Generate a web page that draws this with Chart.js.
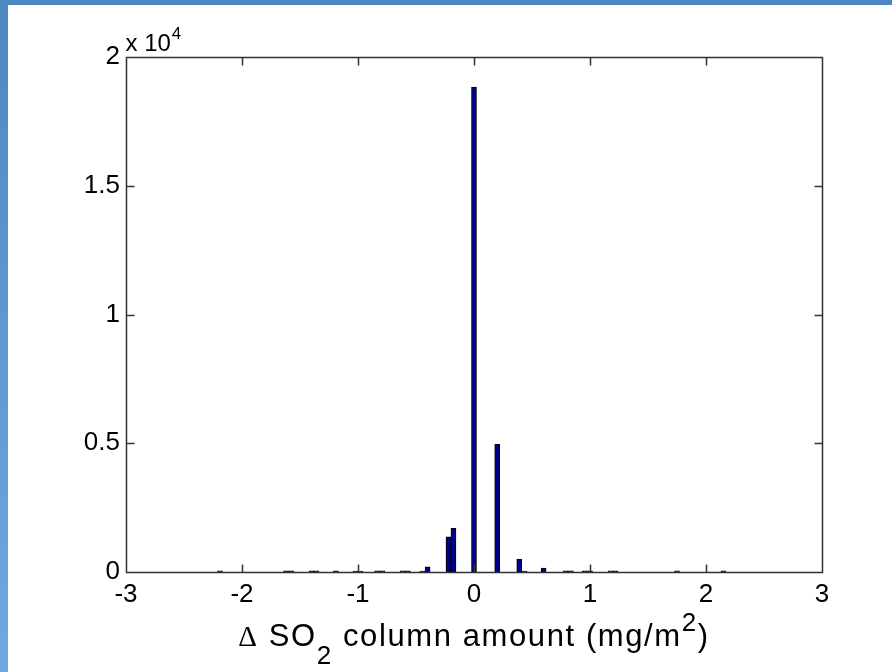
<!DOCTYPE html>
<html><head><meta charset="utf-8">
<script src="https://cdn.jsdelivr.net/npm/chart.js@4"></script>
<style>
html,body{margin:0;padding:0;background:#fff;}
#wrap{position:relative;width:892px;height:672px;overflow:hidden;background:#fff;}
#topband{position:absolute;left:0;top:0;width:892px;height:5px;background:#4f87c2;}
#leftband{position:absolute;left:0;top:0;width:8px;height:672px;background:linear-gradient(#4f87c2,#70a8e2);}
canvas{position:absolute;left:0;top:0;}
</style></head><body>
<div id="wrap"><div id="topband"></div><div id="leftband"></div><canvas id="c" width="892" height="672"></canvas></div>
<script>
// Histogram bins (bin centre, mg/m^2) and counts
const binCenters = [-2.19, -1.62, -1.575, -1.40, -1.36, -1.19, -1.02, -0.98, -0.835, -0.79, -0.615, -0.57,
  -0.445, -0.40, -0.22, -0.177, 0.0, 0.2, 0.39, 0.435, 0.60, 0.79, 0.835, 0.955, 1.0, 1.18, 1.22, 1.75, 2.15];
const counts = [50, 50, 50, 50, 50, 50, 40, 40, 50, 50, 50, 50,
  40, 200, 1370, 1700, 18830, 4960, 500, 40, 150, 50, 50, 50, 50, 50, 50, 50, 50];
const xTicks = [-3, -2, -1, 0, 1, 2, 3];
const xTickLabels = ['-3', '-2', '-1', '0', '1', '2', '3'];
const yTicks = [0, 5000, 10000, 15000, 20000];
const yTickLabels = ['0', '0.5', '1', '1.5', '2'];

const FONT = 'Liberation Sans, Arial, Helvetica, sans-serif';
const points = binCenters.map((x, i) => ({x: x, y: counts[i]}));

const boxPlugin = {
  id: 'matlabBox',
  afterDraw(chart) {
    const ctx = chart.ctx, a = chart.chartArea;
    const xs = chart.scales.x, ys = chart.scales.y;
    const L = Math.round(a.left) + 0.5, R = Math.round(a.right) + 0.5;
    const T = Math.round(a.top) + 0.5, B = Math.round(a.bottom) + 0.5;
    ctx.save();
    ctx.strokeStyle = '#333';
    ctx.lineWidth = 1.5;
    ctx.beginPath();
    ctx.rect(L, T, R - L, B - T);
    const tl = 8;
    xTicks.forEach(v => {
      const px = Math.round(xs.getPixelForValue(v)) + 0.5;
      ctx.moveTo(px, B); ctx.lineTo(px, B - tl);
      ctx.moveTo(px, T); ctx.lineTo(px, T + tl);
    });
    yTicks.forEach(v => {
      const py = Math.round(ys.getPixelForValue(v)) + 0.5;
      ctx.moveTo(L, py); ctx.lineTo(L + tl, py);
      ctx.moveTo(R, py); ctx.lineTo(R - tl, py);
    });
    ctx.stroke();

    // exponent label  x 10^4
    ctx.fillStyle = '#000';
    ctx.textBaseline = 'alphabetic';
    ctx.textAlign = 'left';
    ctx.font = '24px ' + FONT;
    const ex = L - 1, ey = T - 7;
    ctx.fillText('x 10', ex, ey);
    const w1 = ctx.measureText('x 10').width;
    ctx.font = '17px ' + FONT;
    ctx.fillText('4', ex + w1 + 1, ey - 12);

    // x axis title: Δ SO_2 column amount (mg/m^2)
    const main = '31px ' + FONT, small = '26px ' + FONT, serif = '29px Liberation Serif, Times New Roman, serif';
    const parts = [
      {t: 'Δ', f: serif, dy: 0},
      {t: ' SO', f: main, dy: 0},
      {t: '2', f: small, dy: 18},
      {t: ' column amount (mg/m', f: main, dy: 0},
      {t: '2', f: small, dy: -15},
      {t: ')', f: main, dy: 0}
    ];
    ctx.letterSpacing = '1.6px';
    let total = 0;
    parts.forEach(p => { ctx.font = p.f; p.w = ctx.measureText(p.t).width; total += p.w; });
    let cx = (a.left + a.right) / 2 - total / 2;
    const by = 646;
    parts.forEach(p => { ctx.font = p.f; ctx.fillText(p.t, cx, by + p.dy); cx += p.w; });
    ctx.restore();
  }
};

new Chart(document.getElementById('c'), {
  type: 'bar',
  data: {
    datasets: [{
      data: points,
      backgroundColor: '#00008f',
      borderColor: '#000',
      borderWidth: 1,
      barThickness: 5,
      borderSkipped: false
    }]
  },
  options: {
    responsive: false,
    animation: false,
    events: [],
    layout: {padding: {left: 0, top: 57, right: 70, bottom: 0}},
    plugins: {legend: {display: false}, tooltip: {enabled: false}},
    scales: {
      x: {
        type: 'linear', min: -3, max: 3, offset: false,
        grid: {display: false, drawTicks: false},
        border: {display: false},
        afterBuildTicks: s => { s.ticks = xTicks.map(v => ({value: v})); },
        afterFit: s => { s.height = 100; },
        ticks: {
          autoSkip: false, maxRotation: 0, padding: 7, color: '#000',
          font: {family: FONT, size: 26},
          callback: (v) => xTickLabels[xTicks.indexOf(v)]
        }
      },
      y: {
        type: 'linear', min: 0, max: 20000,
        grid: {display: false, drawTicks: false},
        border: {display: false},
        afterBuildTicks: s => { s.ticks = yTicks.map(v => ({value: v})); },
        afterFit: s => { s.width = 126; },
        ticks: {
          autoSkip: false, padding: 6, color: '#000',
          font: {family: FONT, size: 26},
          callback: (v) => yTickLabels[yTicks.indexOf(v)]
        }
      }
    }
  },
  plugins: [boxPlugin]
});
</script>
</body></html>
